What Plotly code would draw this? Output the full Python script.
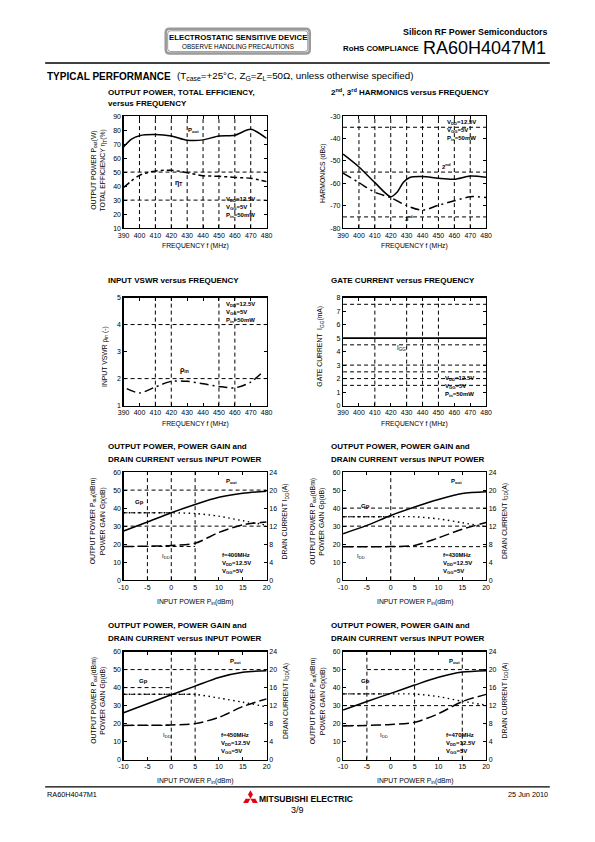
import math
import plotly.graph_objects as go

W, H = 595, 842
FONT = "Liberation Sans, Arial, Helvetica, sans-serif"

# ---------------- data ----------------
freq_ticks = [390, 400, 410, 420, 430, 440, 450, 460, 470, 480]
freq_ticktext = ["390", "400", "410", "420", "430", "440", "450", "460", "470", "480"]

# Plot 1: output power (W) and total efficiency (%) vs frequency
freq_pout = [390, 395, 400, 410, 420, 430, 440, 450, 460, 470, 480]
pout_w = [68, 73.5, 76, 76.8, 75.8, 72.8, 73, 75.8, 76.3, 80.5, 74]
freq_eff = [390, 400, 410, 420, 430, 440, 450, 460, 470, 480]
eff_pct = [39, 47.7, 50.8, 51.3, 49.6, 47.4, 47, 46.2, 45.6, 43.2]
p1_yticks = [10, 20, 30, 40, 50, 60, 70, 80, 90]
p1_ytext = ["10", "20", "30", "40", "50", "60", "70", "80", "90"]

# Plot 2: harmonics (dBc)
freq_h2 = [390, 400, 410, 420, 424, 428, 432, 440, 450, 460, 470, 480]
h2_dbc = [-47, -52.7, -59.7, -66, -64, -59.5, -57.4, -57, -57.8, -58.2, -56.8, -57.3]
freq_h3 = [390, 400, 410, 420, 430, 440, 450, 460, 470, 480]
h3_dbc = [-55.5, -59.7, -64, -66.4, -70, -72, -69.8, -67.8, -66, -66.3]
p2_yticks = [-80, -70, -60, -50, -40, -30]
p2_ytext = ["-80", "-70", "-60", "-50", "-40", "-30"]

# Plot 3: input VSWR
freq_vswr = [392, 400, 410, 420, 430, 440, 450, 460, 470, 478]
vswr = [1.63, 1.47, 1.69, 1.9, 1.9, 1.81, 1.71, 1.66, 1.87, 2.27]
p3_yticks = [1, 2, 3, 4, 5]
p3_ytext = ["1", "2", "3", "4", "5"]

# Plot 4: gate current (mA)
freq_igg = [390, 400, 410, 420, 430, 440, 450, 460, 470, 480]
igg_ma = [5, 5, 5, 5, 5, 5, 5, 5, 5, 5]
p4_yticks = [0, 1, 2, 3, 4, 5, 6, 7, 8]
p4_ytext = ["0", "1", "2", "3", "4", "5", "6", "7", "8"]

# Plots 5-8: Pout, Gp, Idd vs Pin
pin_dbm = [-10, -5, 0, 5, 10, 15, 20]
pin_ticks = [-10, -5, 0, 5, 10, 15, 20]
pin_ticktext = ["-10", "-5", "0", "5", "10", "15", "20"]
pw_yticks = [0, 10, 20, 30, 40, 50, 60]
pw_ytext = ["0", "10", "20", "30", "40", "50", "60"]
idd_ticks = [0, 4, 8, 12, 16, 20, 24]
idd_ticktext = ["0", "4", "8", "12", "16", "20", "24"]

pout_400 = [27.3, 32.3, 37.4, 42, 46, 48.2, 49.3]
gp_400 = [37.4, 37.4, 37.4, 37, 35.5, 33, 30.5]
idd_400 = [7.45, 7.55, 7.7, 8.2, 10.6, 12.3, 12.9]

pout_430 = [25.8, 30.4, 35.9, 40.6, 44.8, 48.1, 49.1]
gp_430 = [35.2, 35.2, 35.2, 35.2, 34, 31.9, 29.6]
idd_430 = [7.4, 7.4, 7.45, 7.7, 9.4, 11.3, 12.8]

pout_450 = [26, 31, 36, 40.8, 45.6, 48.5, 49.3]
gp_450 = [36.3, 36.3, 36.3, 36.2, 34.2, 31.9, 29.3]
idd_450 = [7.6, 7.65, 7.7, 8.0, 9.4, 11.8, 13.5]

pout_470 = [27.6, 32.3, 36.8, 41.4, 45.7, 48.6, 49.4]
gp_470 = [36.5, 36.5, 36.5, 36.4, 35, 32.4, 30.3]
idd_470 = [7.45, 7.6, 7.8, 8.3, 10.2, 12.9, 14.5]

# ---------------- geometry (pixels) ----------------
def px(x):
    return x / W


def py(y):
    return 1 - y / H


boxes = {
    1: (120, 266, 113, 226),
    2: (344, 490, 113, 226),
    3: (120, 266, 296, 405),
    4: (344, 490, 296, 405),
    5: (120, 266, 472, 581),
    6: (344, 490, 472, 581),
    7: (120, 266, 653, 762),
    8: (344, 490, 653, 762),
}

fig = go.Figure()
layout = dict(
    width=W, height=H, margin=dict(l=0, r=0, t=0, b=0),
    paper_bgcolor="white", plot_bgcolor="rgba(0,0,0,0)", showlegend=False,
    font=dict(family=FONT, color="black"),
)

tickfont = dict(size=7, family=FONT, color="black")


def axname(i):
    return "" if i == 1 else str(i)


def setup_axes(i, xr, xt, xtt, yr, yt, ytt, dual=False, y2=None):
    l, r, t, b = boxes[i]
    base = dict(showline=True, linecolor="black", linewidth=1.2, ticks="inside",
                ticklen=3, tickcolor="black", tickwidth=1, showgrid=False,
                zeroline=False, tickfont=tickfont, fixedrange=True)
    layout["xaxis" + axname(i)] = dict(base, domain=[px(l), px(r)], anchor="y" + axname(i),
                                       range=xr, tickmode="array", tickvals=xt, ticktext=xtt,
                                       mirror="ticks")
    layout["yaxis" + axname(i)] = dict(base, domain=[py(b), py(t)], anchor="x" + axname(i),
                                       range=yr, tickmode="array", tickvals=yt, ticktext=ytt,
                                       mirror=False if dual else "ticks")
    if dual:
        layout["yaxis" + str(y2)] = dict(base, overlaying="y" + axname(i), side="right",
                                         anchor="x" + axname(i), range=[0, 24], tickmode="array",
                                         tickvals=idd_ticks, ticktext=idd_ticktext)


def line(i, x, y, dash="solid", yaxis=None, width=1.5):
    fig.add_trace(go.Scatter(
        x=x, y=y, mode="lines", xaxis="x" + axname(i),
        yaxis=yaxis if yaxis else "y" + axname(i),
        line=dict(color="black", width=width, dash=dash, shape="spline", smoothing=0.8),
        hoverinfo="skip"))


shapes = []
GRID = dict(color="black", width=1, dash="4px,3px")


def vgrid(i, xs, yr):
    for xv in xs:
        shapes.append(dict(type="line", xref="x" + axname(i), yref="y" + axname(i),
                           x0=xv, x1=xv, y0=yr[0], y1=yr[1], line=GRID, layer="below"))


def hgrid(i, specs):
    for yv, x0, x1 in specs:
        shapes.append(dict(type="line", xref="x" + axname(i), yref="y" + axname(i),
                           x0=x0, x1=x1, y0=yv, y1=yv, line=GRID, layer="below"))


annotations = []


def text(t, x, y, size=7, xanchor="left", yanchor="middle", xref="paper", yref="paper",
         angle=0, bold=False, color="black", family=FONT):
    annotations.append(dict(text=("<b>%s</b>" % t) if bold else t, x=x, y=y, xref=xref,
                            yref=yref, xanchor=xanchor, yanchor=yanchor, showarrow=False,
                            textangle=angle, font=dict(size=size, family=family, color=color),
                            align="left"))


def dtext(i, t, x, y, size=6, bold=True, yaxis=None):
    text(t, x, y, size=size, xref="x" + axname(i), yref=yaxis if yaxis else "y" + axname(i),
         bold=bold)


COND = "V<sub>DD</sub>=12.5V<br>V<sub>GG</sub>=5V<br>P<sub>in</sub>=50mW"

# ---------------- plot 1 ----------------
setup_axes(1, [390, 480], freq_ticks, freq_ticktext, [10, 90], p1_yticks, p1_ytext)
vgrid(1, [400, 410, 420, 430, 440, 450, 460, 470], [10, 90])
hgrid(1, [(50, 390, 480), (30, 390, 480)])
line(1, freq_pout, pout_w)
line(1, freq_eff, eff_pct, dash="7px,3px,3px,3px")
dtext(1, "P<sub>out</sub>", 429, 80)
dtext(1, "η<sub>T</sub>", 421, 42.5, size=7)
dtext(1, COND, 453, 24.5)

# ---------------- plot 2 ----------------
setup_axes(2, [390, 480], freq_ticks, freq_ticktext, [-80, -30], p2_yticks, p2_ytext)
vgrid(2, [400, 410, 420, 430, 440, 450, 460, 470], [-80, -30])
hgrid(2, [(-35, 390, 480), (-55, 390, 480), (-75, 390, 480)])
line(2, freq_h2, h2_dbc)
line(2, freq_h3, h3_dbc, dash="9px,4px,2px,4px")
dtext(2, COND, 454, -36.5)
dtext(2, "2<sup>nd</sup>", 451, -52.5)
dtext(2, "3<sup>rd</sup>", 428, -75.5)

# ---------------- plot 3 ----------------
setup_axes(3, [390, 480], freq_ticks, freq_ticktext, [1, 5], p3_yticks, p3_ytext)
vgrid(3, [410, 420, 450, 460], [1, 5])
hgrid(3, [(4, 390, 480), (2, 390, 480)])
line(3, freq_vswr, vswr, dash="9px,4px,2px,4px")
dtext(3, COND, 453, 4.45)
dtext(3, "ρ<sub>in</sub>", 424, 2.3, size=7)

# ---------------- plot 4 ----------------
setup_axes(4, [390, 480], freq_ticks, freq_ticktext, [0, 8], p4_yticks, p4_ytext)
vgrid(4, [410, 430, 440, 450], [0, 8])
hgrid(4, [(7.5, 390, 480), (4.5, 390, 480), (3, 390, 480), (2.5, 390, 480),
          (2, 390, 480), (1.5, 390, 480)])
line(4, freq_igg, igg_ma, width=1.6)
dtext(4, "I<sub>GG</sub>", 422.5, 4.25, size=6.5, bold=False)
dtext(4, COND, 453, 1.4)

# ---------------- plots 5-8 ----------------
sweeps = [
    (5, 9, pout_400, gp_400, idd_400, "400",
     [-5, 0, 5], [(50, -10, 20), (37.4, -10, 0), (30, -10, 20), (18.7, -10, 5)],
     (11, 54.5), (-8.1, 43.5), (-2.4, 13.2), (10.3, 9.4)),
    (6, 10, pout_430, gp_430, idd_430, "430",
     [0], [(40, -10, 20), (35.2, -10, 0), (30, -10, 20), (18.6, -10, 20)],
     (12.2, 54.5), (-6.7, 41), (-7.5, 13), (10.5, 9)),
    (7, 11, pout_450, gp_450, idd_450, "450",
     [0, 5], [(50, -10, 20), (40, -10, 0), (36.3, -10, 5), (19, -10, 0)],
     (12, 54.5), (-7.1, 43.5), (-2.2, 13.3), (10.1, 8.8)),
    (8, 12, pout_470, gp_470, idd_470, "470",
     [-5, 5, 15], [(50, -5, 20), (36.5, -10, 0), (30, -10, 20), (19, -10, -5)],
     (11.8, 54.5), (-6.7, 43.5), (-2.6, 13.3), (11.2, 8.8)),
]
for i, y2, pout, gp, idd, f, vg, hg, p_lab, g_lab, i_lab, c_lab in sweeps:
    setup_axes(i, [-10, 20], pin_ticks, pin_ticktext, [0, 60], pw_yticks, pw_ytext,
               dual=True, y2=y2)
    vgrid(i, vg, [0, 60])
    hgrid(i, hg)
    line(i, pin_dbm, pout)
    line(i, pin_dbm, gp, dash="1.5px,3.5px", width=1.4)
    line(i, pin_dbm, idd, dash="10px,4px", yaxis="y" + str(y2))
    dtext(i, "P<sub>out</sub>", *p_lab)
    dtext(i, "Gp", *g_lab)
    dtext(i, "I<sub>DD</sub>", *i_lab, bold=False)
    dtext(i, "f=%sMHz<br>V<sub>DD</sub>=12.5V<br>V<sub>GG</sub>=5V" % f, *c_lab)

# ---------------- subplot titles ----------------
TS = 8.0
text("OUTPUT POWER, TOTAL EFFICIENCY,", px(102), py(89), size=TS, bold=True)
text("versus FREQUENCY", px(102), py(100), size=TS, bold=True)
text("2<sup>nd</sup>, 3<sup>rd</sup> HARMONICS versus FREQUENCY", px(330), py(89), size=TS, bold=True)
text("INPUT VSWR versus FREQUENCY", px(102), py(279), size=TS, bold=True)
text("GATE CURRENT versus FREQUENCY", px(330), py(279), size=TS, bold=True)
for xx, yy in [(102, 446), (330, 446), (102, 627), (330, 627)]:
    text("OUTPUT POWER, POWER GAIN and", px(xx), py(yy), size=TS, bold=True)
    text("DRAIN CURRENT versus INPUT POWER", px(xx), py(yy + 13), size=TS, bold=True)

# ---------------- axis titles ----------------
AS = 6.8
text("FREQUENCY f (MHz)", px(193), py(244), size=AS, xanchor="center")
text("FREQUENCY f (MHz)", px(417), py(244), size=AS, xanchor="center")
text("FREQUENCY f (MHz)", px(193), py(424), size=AS, xanchor="center")
text("FREQUENCY f (MHz)", px(417), py(424), size=AS, xanchor="center")
for yy in (603, 784):
    text("INPUT POWER P<sub>in</sub>(dBm)", px(193), py(yy), size=AS, xanchor="center")
    text("INPUT POWER P<sub>in</sub>(dBm)", px(417), py(yy), size=AS, xanchor="center")

text("OUTPUT POWER P<sub>out</sub>(W)", px(89), py(168), size=AS, xanchor="center", angle=-90)
text("TOTAL EFFICIENCY η<sub>T</sub>(%)", px(99), py(168), size=AS, xanchor="center", angle=-90)
text("HARMONICS (dBc)", px(323), py(170), size=AS, xanchor="center", angle=-90)
text("INPUT VSWR ρ<sub>in</sub> (-)", px(101), py(355), size=AS, xanchor="center", angle=-90)
text("GATE CURRENT  I<sub>GG</sub>(mA)", px(321), py(345), size=AS, xanchor="center", angle=-90)
for (l, r, t, b) in [boxes[5], boxes[6], boxes[7], boxes[8]]:
    cy = (t + b) / 2 - 5
    text("OUTPUT POWER P<sub>out</sub>(dBm)", px(l - 31), py(cy), size=AS, xanchor="center", angle=-90)
    text("POWER GAIN Gp(dB)", px(l - 21), py(cy), size=AS, xanchor="center", angle=-90)
    text("DRAIN CURRENT I<sub>DD</sub>(A)", px(r + 19), py(cy), size=AS, xanchor="center", angle=-90)

# ---------------- header ----------------
def rrect(x0, y0, x1, y1, rad):
    pts = ["M %f,%f" % (px(x0 + rad), py(y0)),
           "L %f,%f" % (px(x1 - rad), py(y0)),
           "Q %f,%f %f,%f" % (px(x1), py(y0), px(x1), py(y0 + rad)),
           "L %f,%f" % (px(x1), py(y1 - rad)),
           "Q %f,%f %f,%f" % (px(x1), py(y1), px(x1 - rad), py(y1)),
           "L %f,%f" % (px(x0 + rad), py(y1)),
           "Q %f,%f %f,%f" % (px(x0), py(y1), px(x0), py(y1 - rad)),
           "L %f,%f" % (px(x0), py(y0 + rad)),
           "Q %f,%f %f,%f" % (px(x0), py(y0), px(x0 + rad), py(y0)), "Z"]
    return " ".join(pts)


shapes.append(dict(type="path", xref="paper", yref="paper", path=rrect(163, 25, 310, 50, 4),
                   line=dict(color="#9a9a9a", width=2.5), fillcolor="white"))
shapes.append(dict(type="path", xref="paper", yref="paper", path=rrect(165, 27, 308, 48, 3),
                   line=dict(color="#555555", width=0.6)))
text("ELECTROSTATIC SENSITIVE DEVICE", px(236.5), py(33.5), size=7.8, xanchor="center", bold=True)
text("OBSERVE HANDLING PRECAUTIONS", px(236.5), py(42.5), size=6.3, xanchor="center")
text("Silicon RF Power Semiconductors", px(555), py(28), size=8.9, xanchor="right", bold=True)
text("RoHS COMPLIANCE", px(342), py(44.5), size=7.8, bold=True)
text("RA60H4047M1", px(424), py(44), size=18)
shapes.append(dict(type="line", xref="paper", yref="paper", x0=px(40), x1=px(555),
                   y0=py(59.5), y1=py(59.5), line=dict(color="black", width=1.3)))
text("TYPICAL PERFORMANCE", px(40), py(73), size=10, bold=True)
text("(T<sub>case</sub>=+25°C, Z<sub>G</sub>=Z<sub>L</sub>=50Ω, unless otherwise specified)",
     px(172), py(73), size=9.8)

# ---------------- footer ----------------
shapes.append(dict(type="line", xref="paper", yref="paper", x0=px(40), x1=px(555),
                   y0=py(789.5), y1=py(789.5), line=dict(color="black", width=1.3)))
text("RA60H4047M1", px(40), py(797.5), size=7.3)
text("25 Jun 2010", px(555), py(797.5), size=7.3, xanchor="right")
text("MITSUBISHI ELECTRIC", px(256), py(802), size=8.5, bold=True)
text("3/9", px(297), py(812.5), size=9, xanchor="center")

cx, cy = 249.5, 801.5
for ang in (90, 210, 330):
    a = math.radians(ang)
    ux, uy = math.cos(a), -math.sin(a)
    vx, vy = -uy, ux
    L, Wd = 8.6, 2.5
    p0 = (cx, cy)
    p1 = (cx + ux * L / 2 + vx * Wd, cy + uy * L / 2 + vy * Wd)
    p2 = (cx + ux * L, cy + uy * L)
    p3 = (cx + ux * L / 2 - vx * Wd, cy + uy * L / 2 - vy * Wd)
    path = "M %f,%f L %f,%f L %f,%f L %f,%f Z" % (
        px(p0[0]), py(p0[1]), px(p1[0]), py(p1[1]), px(p2[0]), py(p2[1]), px(p3[0]), py(p3[1]))
    shapes.append(dict(type="path", xref="paper", yref="paper", path=path,
                       fillcolor="#e60012", line=dict(width=0)))

layout["shapes"] = shapes
layout["annotations"] = annotations
fig.update_layout(**layout)
fig.write_html("out.html", config={"displayModeBar": False, "staticPlot": True},
               post_script="document.body.style.margin='0';document.body.style.padding='0';")
